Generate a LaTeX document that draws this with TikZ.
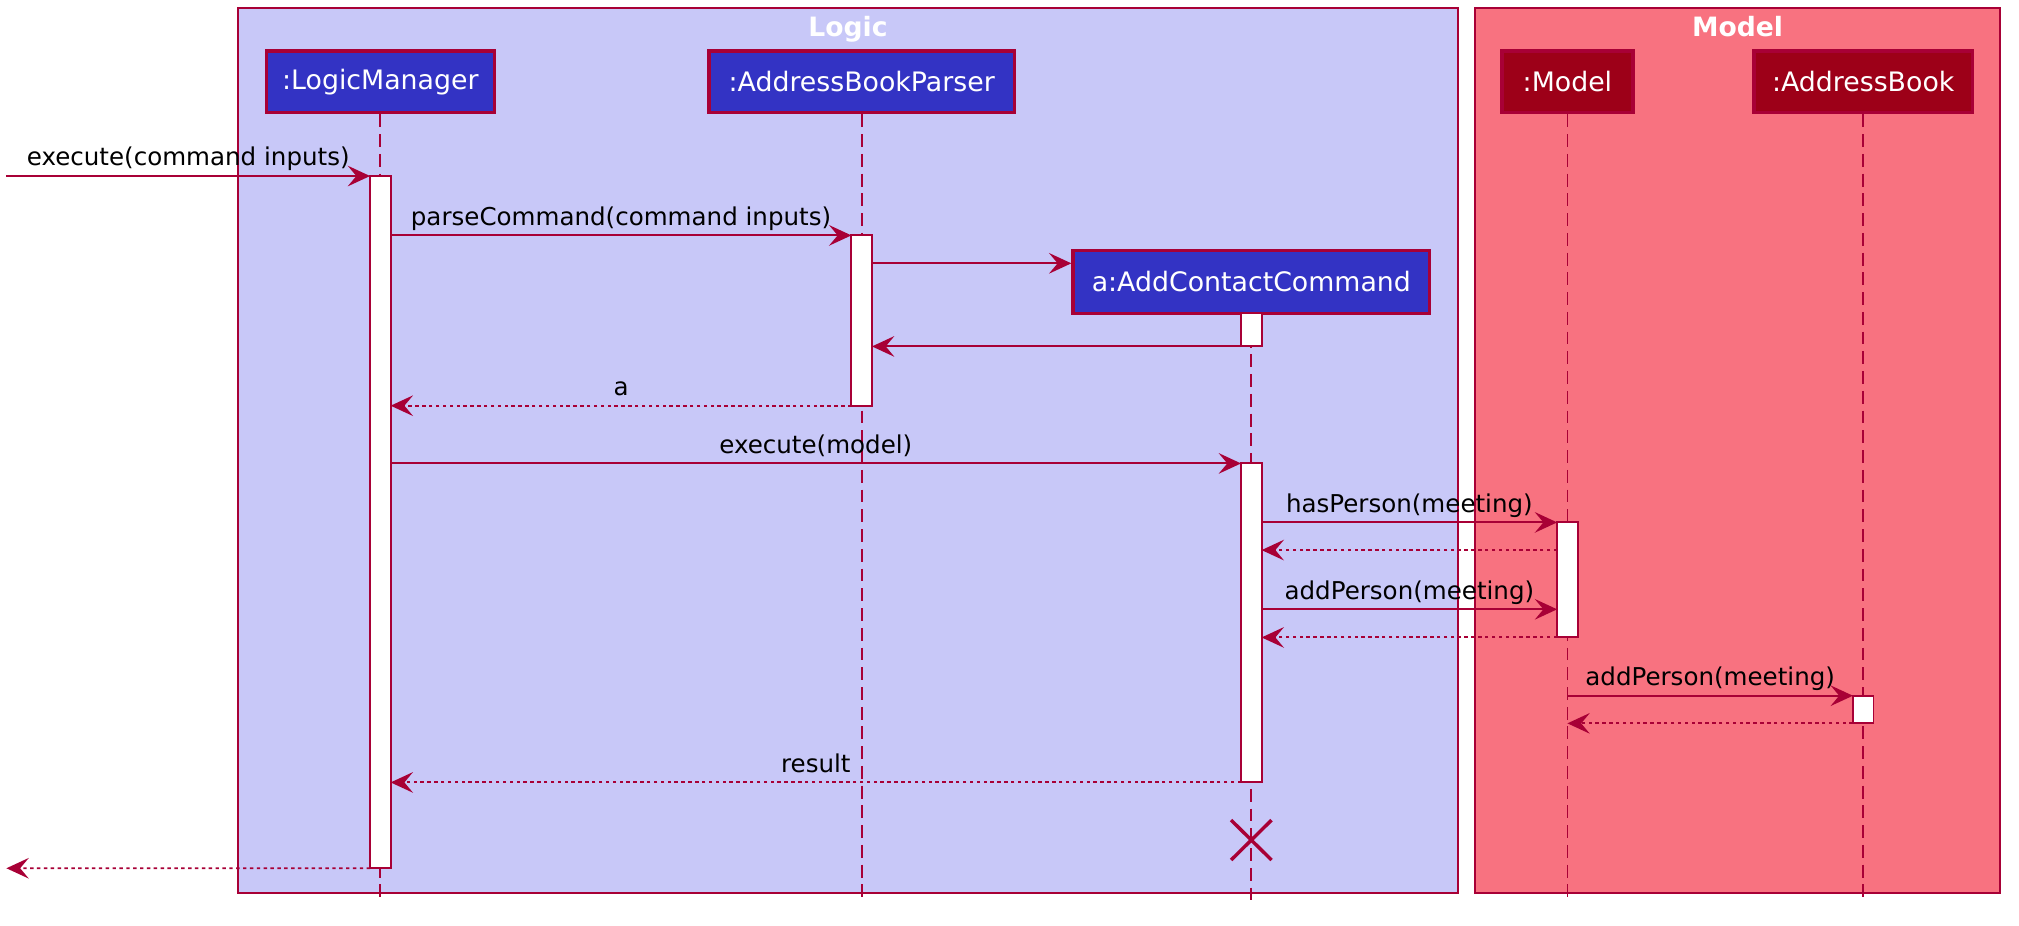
\documentclass[tikz,border=0pt]{standalone}
\usepackage{fontspec}
\setmainfont{DejaVu Sans}
\usetikzlibrary{arrows.meta}

\definecolor{umlred}{RGB}{168,0,54}
\definecolor{logicbg}{RGB}{200,200,248}
\definecolor{modelbg}{RGB}{248,114,128}
\definecolor{logicobj}{RGB}{51,51,196}
\definecolor{modelobj}{RGB}{157,0,24}

\tikzset{
  boxframe/.style={draw=umlred, line width=1.1pt},
  frametitle/.style={text=white, anchor=base, font=\fontsize{15.5}{18}\selectfont\bfseries},
  obj/.style={draw=umlred, line width=1.9pt, text=white, minimum height=36pt, inner sep=0pt, font=\fontsize{15.6}{18}\selectfont},
  lifeline/.style={draw=umlred, line width=1.1pt, dash pattern=on 7.5pt off 4pt},
  actbar/.style={draw=umlred, fill=white, line width=1.1pt, minimum width=12pt, inner sep=0pt, outer sep=0pt, anchor=north},
  msg/.style={draw=umlred, line width=1.1pt, -{Stealth[length=13pt,width=12pt,inset=5pt]}},
  reply/.style={msg, dash pattern=on 2pt off 2pt},
  lbl/.style={midway, anchor=base, yshift=6pt, text=black, font=\fontsize{14.3}{17}\selectfont},
}

\begin{document}
\begin{tikzpicture}[x=0.75pt,y=0.75pt,yscale=-1]
\useasboundingbox (0,0) rectangle (1568,719);

%Shape: Rectangle [Logic]
\draw[boxframe, fill=logicbg] (184.8,6.5) rectangle (1132.4,693.3);
%Shape: Rectangle [Model]
\draw[boxframe, fill=modelbg] (1145.5,6.5) rectangle (1553.3,693.3);

% Text Node
\node[frametitle] (logictitle) at (658.6,28.5) {Logic};
% Text Node
\node[frametitle] (modeltitle) at (1349.4,28.5) {Model};

%Participants
\node[obj, fill=logicobj, minimum width=133pt] (lm) at (295.4,63.6) {:LogicManager};
\node[obj, fill=logicobj, minimum width=177.75pt] (abp) at (669.2,63.6) {:AddressBookParser};
\node[obj, fill=modelobj, minimum width=76.35pt] (mdl) at (1217.3,63.6) {:Model};
\node[obj, fill=modelobj, minimum width=127.1pt] (ab) at (1447,63.6) {:AddressBook};
\node[obj, fill=logicobj, minimum width=207.75pt, minimum height=36.5pt] (acc) at (971.8,219) {a:AddContactCommand};

%Lifelines
\coordinate (bottom) at (0,702);
\draw[lifeline] (lm.south) -- (lm.south |- bottom);
\draw[lifeline] (abp.south) -- (abp.south |- bottom);
\draw[lifeline] (acc.south) -- (acc.south |- bottom);
\draw[lifeline] (mdl.south) -- (mdl.south |- bottom);
\draw[lifeline] (ab.south) -- (ab.south |- bottom);

%Activation bars
\node[actbar, minimum height=403.2pt] (actlm) at (295.4,136.7) {};
\node[actbar, minimum height=99.2pt] (actabp) at (669.2,182.8) {};
\node[actbar, minimum height=19.3pt] (actacc1) at (971.8,243.3) {};
\node[actbar, minimum height=185.8pt] (actacc2) at (971.8,359.9) {};
\node[actbar, minimum height=67pt] (actmdl) at (1217.3,405.7) {};
\node[actbar, minimum height=16.1pt] (actab) at (1447,540.3) {};

%Straight Lines
\coordinate (inleft) at (5,136.7);
\draw[msg] (inleft) -- (actlm.north west) node[lbl] {execute(command inputs)};
\draw[msg] (actlm.east |- actabp.north) -- (actabp.north west) node[lbl] {parseCommand(command inputs)};
\coordinate (create) at (0,204.5);
\draw[msg] (actabp.east |- create) -- (acc.west |- create);
\draw[msg] (actacc1.south west) -- (actabp.east |- actacc1.south);
\draw[reply] (actabp.south west) -- (actlm.east |- actabp.south) node[lbl] {a};
\draw[msg] (actlm.east |- actacc2.north) -- (actacc2.north west) node[lbl] {execute(model)};
\draw[msg] (actacc2.east |- actmdl.north) -- (actmdl.north west) node[lbl] {hasPerson(meeting)};
\coordinate (hasback) at (0,427.2);
\draw[reply] (actmdl.west |- hasback) -- (actacc2.east |- hasback);
\coordinate (addcall) at (0,473.2);
\draw[msg] (actacc2.east |- addcall) -- (actmdl.west |- addcall) node[lbl] {addPerson(meeting)};
\draw[reply] (actmdl.south west) -- (actacc2.east |- actmdl.south);
\draw[msg] (mdl.south |- actab.north) -- (actab.north west) node[lbl] {addPerson(meeting)};
\draw[reply] (actab.south west) -- (mdl.south |- actab.south);
\draw[reply] (actacc2.south west) -- (actlm.east |- actacc2.south) node[lbl] {result};
\coordinate (outleft) at (5,674.3);
\draw[reply] (actlm.south west) -- (outleft);

%Destroy
\coordinate (kill) at (971.8,652.4);
\draw[umlred, line width=2pt] (kill) +(-15.7,-15.5) -- +(15.7,15.5) (kill) +(-15.7,15.5) -- +(15.7,-15.5);

\end{tikzpicture}
\end{document}
